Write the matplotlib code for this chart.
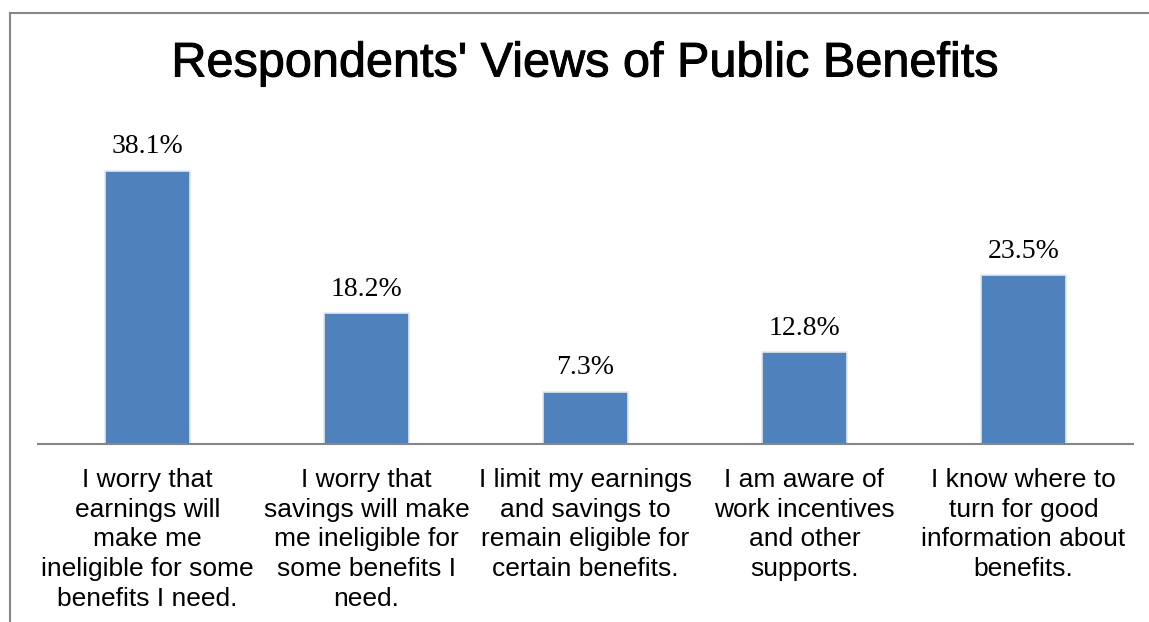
import matplotlib
matplotlib.use("Agg")
import matplotlib.pyplot as plt
from matplotlib.lines import Line2D
import matplotlib.patheffects as pe

categories = [
    "I worry that\nearnings will\nmake me\nineligible for some\nbenefits I need.",
    "I worry that\nsavings will make\nme ineligible for\nsome benefits I\nneed.",
    "I limit my earnings\nand savings to\nremain eligible for\ncertain benefits.",
    "I am aware of\nwork incentives\nand other\nsupports.",
    "I know where to\nturn for good\ninformation about\nbenefits.",
]
values = [38.1, 18.2, 7.3, 12.8, 23.5]
title = "Respondents' Views of Public Benefits"

W, H, DPI = 1149, 622, 100
fig = plt.figure(figsize=(W / DPI, H / DPI), dpi=DPI)

# axes placement in pixel terms
left_px, right_px = 38, 1133
base_px, top_px = 444, 121
ax = fig.add_axes([left_px / W, 1 - base_px / H,
                   (right_px - left_px) / W, (base_px - top_px) / H])

x = list(range(len(values)))
ax.bar(x, values, width=0.39, color="#4F81BD", edgecolor="#e4e8ee", linewidth=1.2, zorder=2)
ax.set_xlim(-0.5, len(values) - 0.5)
ax.set_ylim(0, 45)

for xi, v in zip(x, values):
    ax.annotate(f"{v:.1f}%", (xi, v), xytext=(0, 8), textcoords="offset points",
                ha="center", va="bottom", fontsize=20, family="Liberation Serif",
                color="#000000")

ax.set_xticks(x)
ax.set_xticklabels(categories, fontsize=19, family="Liberation Sans",
                   linespacing=1.31, va="top")
ax.tick_params(axis="x", length=0, pad=17)
ax.set_yticks([])
for s in ["left", "right", "top"]:
    ax.spines[s].set_visible(False)
ax.spines["bottom"].set_color("#868686")
ax.spines["bottom"].set_linewidth(1.5)

fig.text(585 / W, 1 - 64 / H, title, ha="center", va="center",
         fontsize=35, family="Liberation Sans", color="#000000",
         path_effects=[pe.withStroke(linewidth=0.7, foreground="#000000")])

# outer frame lines (top and left)
fig.add_artist(Line2D([10 / W, 1], [1 - 13 / H, 1 - 13 / H], color="#888888", lw=1.5,
                      transform=fig.transFigure))
fig.add_artist(Line2D([10 / W, 10 / W], [1 - 13 / H, 0], color="#888888", lw=1.5,
                      transform=fig.transFigure))

fig.savefig("out.png", dpi=DPI)
